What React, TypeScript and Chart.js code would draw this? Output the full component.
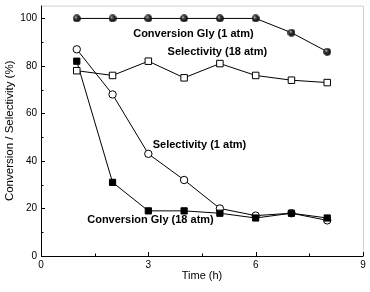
import React, { useEffect, useRef } from "react";
import { Chart, registerables } from "chart.js";

Chart.register(...registerables);

const times = [1, 2, 3, 4, 5, 6, 7, 8];
const convGly1atm = [100, 100, 100, 100, 100, 100, 94, 86];
const select18atm = [78, 76, 82, 75, 81, 76, 74, 73];
const select1atm = [87, 68, 43, 32, 20, 17, 18, 15];
const convGly18atm = [82, 31, 19, 19, 18, 16, 18, 16];

const xTickLabels = [0, 3, 6, 9];
const yTickLabels = [0, 20, 40, 60, 80, 100];
const xMinorTicks = [1.5, 4.5, 7.5];
const yMinorTicks = [10, 30, 50, 70, 90];

const noteTexts = ["Conversion Gly (1 atm)", "Selectivity (18 atm)", "Selectivity (1 atm)", "Conversion Gly (18 atm)"];
const noteX = [4.26, 4.93, 4.43, 3.06];
const noteY = [93.3, 85.8, 46.9, 15.1];

const FONT = "'Liberation Sans', Arial, sans-serif";

function makeBall(): HTMLCanvasElement {
  const c = document.createElement("canvas");
  c.width = 8;
  c.height = 8;
  const g = c.getContext("2d")!;
  const grad = g.createRadialGradient(2.8, 2.6, 0.2, 4, 4, 4);
  grad.addColorStop(0, "#c8c8c8");
  grad.addColorStop(0.35, "#3a3a3a");
  grad.addColorStop(1, "#000000");
  g.fillStyle = grad;
  g.beginPath();
  g.arc(4, 4, 3.8, 0, Math.PI * 2);
  g.fill();
  return c;
}

export default function App() {
  const ref = useRef<HTMLCanvasElement | null>(null);
  useEffect(() => {
    if (!ref.current) return;
    const ball = makeBall();
    const framePlugin = {
      id: "frame",
      afterDraw(chart: any) {
        const { ctx, chartArea: a, scales } = chart;
        const xs = scales.x;
        const ys = scales.y;
        ctx.save();
        ctx.strokeStyle = "#cfcfcf";
        ctx.lineWidth = 1;
        ctx.beginPath();
        ctx.moveTo(a.left, a.top + 0.5);
        ctx.lineTo(a.right + 0.5, a.top + 0.5);
        ctx.lineTo(a.right + 0.5, a.bottom);
        ctx.stroke();
        ctx.strokeStyle = "#000";
        ctx.beginPath();
        ctx.moveTo(a.left + 0.5, a.top);
        ctx.lineTo(a.left + 0.5, a.bottom + 0.5);
        ctx.lineTo(a.right + 0.5, a.bottom + 0.5);
        ctx.stroke();
        ctx.beginPath();
        xTickLabels.forEach((v) => {
          const px = Math.round(xs.getPixelForValue(v)) + 0.5;
          ctx.moveTo(px, a.bottom);
          ctx.lineTo(px, a.bottom - 4);
        });
        xMinorTicks.forEach((v) => {
          const px = Math.round(xs.getPixelForValue(v)) + 0.5;
          ctx.moveTo(px, a.bottom);
          ctx.lineTo(px, a.bottom - 2.5);
        });
        yTickLabels.forEach((v) => {
          const py = Math.round(ys.getPixelForValue(v)) + 0.5;
          ctx.moveTo(a.left, py);
          ctx.lineTo(a.left + 4, py);
        });
        yMinorTicks.forEach((v) => {
          const py = Math.round(ys.getPixelForValue(v)) + 0.5;
          ctx.moveTo(a.left, py);
          ctx.lineTo(a.left + 2.5, py);
        });
        ctx.stroke();
        ctx.fillStyle = "#000";
        ctx.font = "bold 11px " + FONT;
        ctx.textAlign = "center";
        ctx.textBaseline = "middle";
        noteTexts.forEach((t, i) => {
          ctx.fillText(t, xs.getPixelForValue(noteX[i]), ys.getPixelForValue(noteY[i]));
        });
        ctx.restore();
      },
    };
    const chart = new Chart(ref.current, {
      type: "line",
      data: {
        datasets: [
          {
            label: "Conversion Gly (1 atm)",
            data: times.map((t, i) => ({ x: t, y: convGly1atm[i] })),
            borderColor: "#000",
            borderWidth: 1,
            pointStyle: ball as any,
            pointRadius: 4,
          },
          {
            label: "Selectivity (18 atm)",
            data: times.map((t, i) => ({ x: t, y: select18atm[i] })),
            borderColor: "#000",
            borderWidth: 1,
            pointStyle: "rect",
            pointRadius: 4.6,
            pointBackgroundColor: "#fff",
            pointBorderColor: "#000",
            pointBorderWidth: 1,
          },
          {
            label: "Conversion Gly (18 atm)",
            data: times.map((t, i) => ({ x: t, y: convGly18atm[i] })),
            borderColor: "#000",
            borderWidth: 1,
            pointStyle: "rect",
            pointRadius: 4.4,
            pointBackgroundColor: "#000",
            pointBorderColor: "#000",
            pointBorderWidth: 1,
          },
          {
            label: "Selectivity (1 atm)",
            data: times.map((t, i) => ({ x: t, y: select1atm[i] })),
            borderColor: "#000",
            borderWidth: 1,
            pointStyle: "circle",
            pointRadius: 3.7,
            pointBackgroundColor: "#fff",
            pointBorderColor: "#000",
            pointBorderWidth: 1,
          },
        ],
      },
      options: {
        animation: false,
        responsive: false,
        maintainAspectRatio: false,
        layout: { padding: { left: 3, right: 7, top: 4, bottom: 9 } },
        plugins: { legend: { display: false }, tooltip: { enabled: false } },
        scales: {
          x: {
            type: "linear",
            min: 0,
            max: 9,
            afterBuildTicks: (s: any) => {
              s.ticks = xTickLabels.map((v) => ({ value: v }));
            },
            afterFit: (s: any) => {
              s.height = 27;
              s.paddingLeft = 0;
              s.paddingRight = 0;
            },
            grid: { display: false, drawTicks: false },
            border: { display: false },
            ticks: { color: "#000", font: { family: FONT, size: 10 }, padding: 3, maxRotation: 0 },
            title: { display: true, text: "Time (h)", color: "#000", font: { family: FONT, size: 11 }, padding: { top: 0, bottom: 0 } },
          },
          y: {
            type: "linear",
            min: 0,
            max: 105.4,
            afterBuildTicks: (s: any) => {
              s.ticks = yTickLabels.map((v) => ({ value: v }));
            },
            afterFit: (s: any) => {
              s.width = 38;
              s.paddingTop = 0;
              s.paddingBottom = 0;
            },
            grid: { display: false, drawTicks: false },
            border: { display: false },
            ticks: { color: "#000", font: { family: FONT, size: 10 }, padding: 4 },
            title: { display: true, text: "Conversion / Selectivity (%)", color: "#000", font: { family: FONT, size: 11.5 }, padding: { top: 0, bottom: 0 } },
          },
        },
      },
      plugins: [framePlugin],
    } as any);
    return () => chart.destroy();
  }, []);
  return (
    <div style={{ position: "fixed", left: 0, top: 0, width: 370, height: 292, background: "#fff" }}>
      <canvas ref={ref} width={370} height={292} style={{ width: 370, height: 292 }} />
    </div>
  );
}
